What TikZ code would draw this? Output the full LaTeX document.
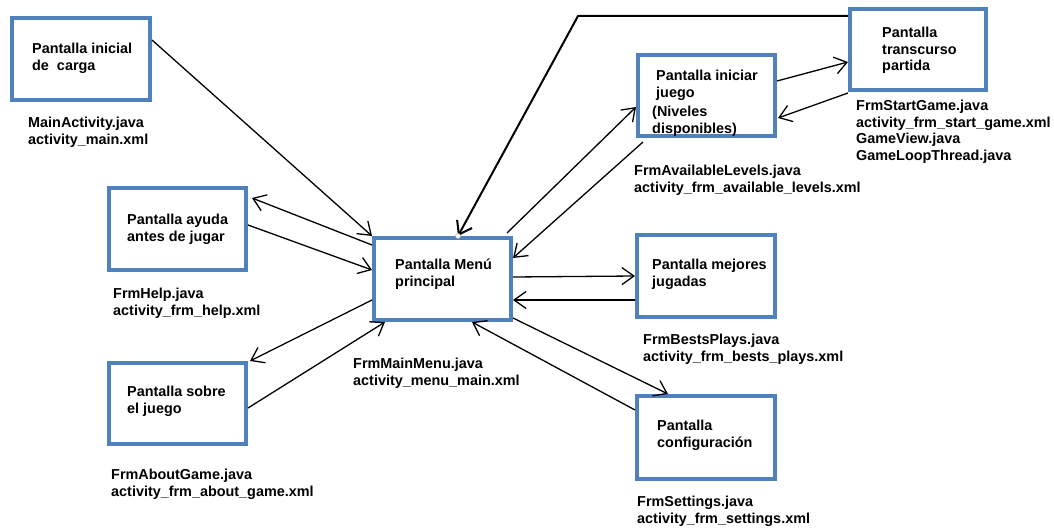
\documentclass[tikz,border=0pt]{standalone}
\usepackage{fontspec}
\setmainfont{Liberation Sans}
\usetikzlibrary{arrows.meta}
\definecolor{boxblue}{RGB}{79,129,189}
\begin{document}
\begin{tikzpicture}[x=1pt,y=-1pt,
  box/.style={draw=boxblue, line width=4pt, inner sep=0pt, fill=white},
  txt/.style={anchor=north west, inner sep=0pt, align=left, font=\fontsize{14.4}{16.5}\selectfont\bfseries},
  conn/.style={line width=1.3pt, -{Straight Barb[length=12pt,width=17pt]}}]
\useasboundingbox[fill=white] (0,0) rectangle (1054,529);

% boxes
\node[box, minimum width=138pt, minimum height=82pt] (init) at (81,59) {};
\node[box, minimum width=137pt, minimum height=82pt] (help) at (177.5,229) {};
\node[box, minimum width=137pt, minimum height=81pt] (about) at (177.5,403.5) {};
\node[box, minimum width=137pt, minimum height=82pt] (menu) at (442.5,279) {};
\node[box, minimum width=137pt, minimum height=81pt] (start) at (706.5,95.5) {};
\node[box, minimum width=136pt, minimum height=81pt] (game) at (918,49.5) {};
\node[box, minimum width=138pt, minimum height=82pt] (best) at (706,276) {};
\node[box, minimum width=138pt, minimum height=83pt] (conf) at (706,437.5) {};

% box texts
\node[txt] (tinit) at (32,43) {Pantalla inicial\\de\ \ carga};
\node[txt] (thelp) at (127,214) {Pantalla ayuda\\antes de jugar};
\node[txt] (tabout) at (127,386) {Pantalla sobre\\el juego};
\node[txt] (tmenu) at (395,259) {Pantalla Menú\\principal};
\node[txt] (tstart) at (656,70) {Pantalla iniciar\\juego};
\node[txt] (tstartb) at (652,106) {(Niveles\\disponibles)};
\node[txt] (tgame) at (882,27) {Pantalla\\transcurso\\partida};
\node[txt] (tbest) at (652,259) {Pantalla mejores\\jugadas};
\node[txt] (tconf) at (657,420) {Pantalla\\configuración};

% file labels
\node[txt] (linit) at (28,117) {MainActivity.java\\activity\_main.xml};
\node[txt] (lhelp) at (113,288) {FrmHelp.java\\activity\_frm\_help.xml};
\node[txt] (labout) at (111,469) {FrmAboutGame.java\\activity\_frm\_about\_game.xml};
\node[txt] (lmenu) at (353,358) {FrmMainMenu.java\\activity\_menu\_main.xml};
\node[txt] (lstart) at (634,165) {FrmAvailableLevels.java\\activity\_frm\_available\_levels.xml};
\node[txt] (lgame) at (856,100) {FrmStartGame.java\\activity\_frm\_start\_game.xml\\GameView.java\\GameLoopThread.java};
\node[txt] (lbest) at (643,334) {FrmBestsPlays.java\\activity\_frm\_bests\_plays.xml};
\node[txt] (lconf) at (637,496) {FrmSettings.java\\activity\_frm\_settings.xml};

% connectors
\draw[conn] ([yshift=19pt]init.east) -- (menu.north west);
\draw[conn] ([yshift=34pt]menu.west) -- ([xshift=4pt,yshift=31pt]help.east);
\draw[conn] ([yshift=4pt]help.east) -- ([yshift=9pt]menu.west);
\draw[conn] ([yshift=-21pt]menu.west) -- ([xshift=2pt]about.north east);
\draw[conn] ([yshift=-4.5pt]about.east) -- ([xshift=13pt]menu.south west);
\draw[conn] ([xshift=-6pt,yshift=3pt]menu.north east) -- ([yshift=-11.5pt]start.west);
\draw[conn] ([xshift=7pt,yshift=-4pt]start.south west) -- ([yshift=21pt]menu.east);
\draw[conn] ([yshift=14.5pt]start.east) -- ([yshift=-12.5pt]game.west);
\draw[conn] ([yshift=-1pt]game.south west) -- ([xshift=1pt,yshift=-22.5pt]start.east);
\coordinate (bend) at (578,16);
\draw[line width=2pt, -{Straight Barb[length=12pt,width=17pt]}] ([yshift=33.5pt]game.west) -- (bend) -- ([xshift=15.5pt]menu.north);
\node[circle, draw=gray!55, fill=white, inner sep=0pt, minimum size=5pt, line width=0.6pt] (handle) at ([xshift=15.5pt]menu.north) {};
\draw[conn] ([yshift=2pt]menu.east) -- (best.west);
\draw[conn] ([yshift=-24pt]best.west) -- ([yshift=-21pt]menu.east);
\draw[conn] ([yshift=-39pt]menu.east) -- ([xshift=-38pt]conf.north);
\draw[conn] ([yshift=27.5pt]conf.west) -- ([xshift=29.5pt]menu.south);
\end{tikzpicture}
\end{document}
